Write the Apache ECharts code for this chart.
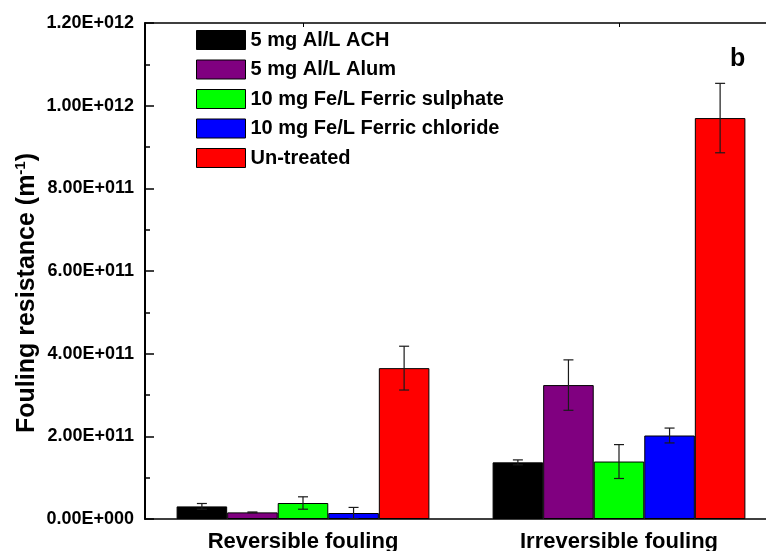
<!DOCTYPE html>
<html>
<head>
<meta charset="utf-8">
<style>
  html, body { margin: 0; padding: 0; background: #fff; overflow: hidden; }
  #chart { width: 766px; height: 551px; }
</style>
<script src="https://cdn.jsdelivr.net/npm/echarts@6/dist/echarts.min.js"></script>
</head>
<body>
<div id="chart"></div>
<script>
// data
var categories = ['Reversible fouling', 'Irreversible fouling'];
var seriesNames = ['5 mg Al/L ACH', '5 mg Al/L Alum', '10 mg Fe/L Ferric sulphate', '10 mg Fe/L Ferric chloride', 'Un-treated'];
var seriesColors = ['#000000', '#800080', '#00ff00', '#0000ff', '#ff0000'];

var achValues = [3.05e10, 1.37e11];
var achErrors = [0.7e10, 0.06e11];
var alumValues = [1.6e10, 3.24e11];
var alumErrors = [0.1e10, 0.61e11];
var sulphateValues = [3.87e10, 1.39e11];
var sulphateErrors = [1.5e10, 0.41e11];
var chlorideValues = [1.45e10, 2.02e11];
var chlorideErrors = [1.35e10, 0.18e11];
var untreatedValues = [3.65e11, 9.70e11];
var untreatedErrors = [0.53e11, 0.84e11];

var yTickLabels = ['0.00E+000', '2.00E+011', '4.00E+011', '6.00E+011', '8.00E+011', '1.00E+012', '1.20E+012'];

var allValues = [achValues, alumValues, sulphateValues, chlorideValues, untreatedValues];
var allErrors = [achErrors, alumErrors, sulphateErrors, chlorideErrors, untreatedErrors];

var font = 'Arial, "Liberation Sans", sans-serif';
var nBars = seriesNames.length;
var catGap = 0.2;

var series = [];
seriesNames.forEach(function (name, k) {
    series.push({
        name: name,
        type: 'bar',
        xAxisIndex: 0,
        barGap: '0%',
        barCategoryGap: '20%',
        itemStyle: { color: seriesColors[k], borderColor: '#000', borderWidth: 1 },
        data: allValues[k]
    });
});
// error bars
seriesNames.forEach(function (name, k) {
    series.push({
        type: 'custom',
        xAxisIndex: 0,
        z: 5,
        silent: true,
        encode: { x: 0, y: 1 },
        data: allValues[k].map(function (v, i) { return [i, v, allErrors[k][i]]; }),
        renderItem: function (params, api) {
            var cat = api.value(0), v = api.value(1), e = api.value(2);
            var band = api.size([1, 0])[0];
            var bw = band * (1 - catGap) / nBars;
            var x = api.coord([cat, 0])[0] - band * (1 - catGap) / 2 + bw * (k + 0.5);
            var yt = api.coord([cat, v + e])[1];
            var yb = api.coord([cat, v - e])[1];
            var st = { stroke: '#1a1a1a', lineWidth: 1.2 };
            return {
                type: 'group',
                children: [
                    { type: 'line', shape: { x1: x, y1: yt, x2: x, y2: yb }, style: st },
                    { type: 'line', shape: { x1: x - 5, y1: yt, x2: x + 5, y2: yt }, style: st },
                    { type: 'line', shape: { x1: x - 5, y1: yb, x2: x + 5, y2: yb }, style: st }
                ]
            };
        }
    });
});

var myChart = echarts.init(document.getElementById('chart'));
var option = {
    animation: false,
    backgroundColor: '#fff',
    title: {
        text: 'b',
        left: 725,
        top: 42,
        textStyle: { fontFamily: font, fontSize: 25, fontWeight: 'bold', color: '#000' }
    },
    legend: {
        data: seriesNames,
        orient: 'vertical',
        left: 191,
        top: 25,
        itemWidth: 49,
        itemHeight: 19,
        itemGap: 9.5,
        icon: 'rect',
        itemStyle: { borderColor: '#000', borderWidth: 1 },
        textStyle: { fontFamily: font, fontSize: 20, fontWeight: 'bold', color: '#000', lineHeight: 19 }
    },
    grid: {
        left: 145,
        width: 632,
        top: 23,
        bottom: 32,
        containLabel: false,
        outerBoundsMode: 'none'
    },
    xAxis: [
        {
            type: 'category',
            data: categories,
            position: 'bottom',
            axisLine: { lineStyle: { color: '#000', width: 1.5 } },
            axisTick: { show: true, inside: true, length: 4, alignWithLabel: true, lineStyle: { color: '#000' } },
            axisLabel: { margin: 12, fontFamily: font, fontSize: 22, fontWeight: 'bold', color: '#000' }
        },
        {
            type: 'category',
            data: categories,
            position: 'top',
            axisLine: { lineStyle: { color: '#000', width: 1.5 } },
            axisTick: { show: true, inside: true, length: 4, alignWithLabel: true, lineStyle: { color: '#000' } },
            axisLabel: { show: false }
        }
    ],
    yAxis: {
        type: 'value',
        min: 0,
        max: 1.2e12,
        interval: 2e11,
        name: '{a|Fouling resistance (m}{s|-1}{a|)}',
        nameLocation: 'middle',
        nameRotate: 90,
        nameGap: 104,
        nameMoveOverlap: false,
        nameTextStyle: {
            padding: [0, 44, 0, 0],
            rich: {
                a: { fontFamily: font, fontSize: 25, fontWeight: 'bold', color: '#000', lineHeight: 28 },
                s: { fontFamily: font, fontSize: 15, fontWeight: 'bold', color: '#000', verticalAlign: 'top', lineHeight: 28 }
            }
        },
        axisLine: { show: true, lineStyle: { color: '#000', width: 2 } },
        axisTick: { show: true, inside: true, length: 9, lineStyle: { color: '#000', width: 1.5 } },
        minorTick: { show: true, splitNumber: 2, length: 5, lineStyle: { color: '#000', width: 1.5 } },
        splitLine: { show: false },
        axisLabel: {
            margin: 11,
            fontFamily: font,
            fontSize: 18,
            fontWeight: 'bold',
            color: '#000',
            formatter: function (value, index) { return yTickLabels[index]; }
        }
    },
    series: series
};
myChart.setOption(option);
</script>
</body>
</html>
